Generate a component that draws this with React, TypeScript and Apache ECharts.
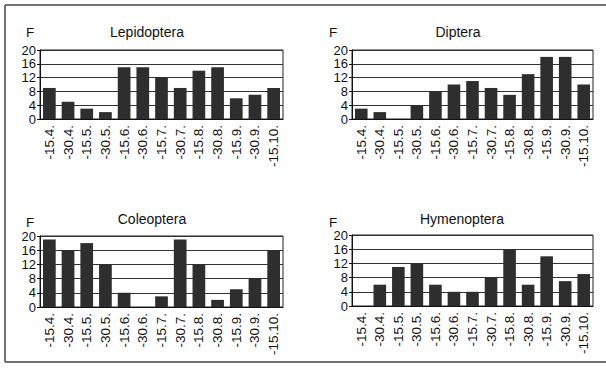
import React, { useEffect, useRef } from "react";
import * as echarts from "echarts";

const categories = ["-15.4.", "-30.4.", "-15.5.", "-30.5.", "-15.6.", "-30.6.", "-15.7.", "-30.7.", "-15.8.", "-30.8.", "-15.9.", "-30.9.", "-15.10."];
const lepidoptera = [9, 5, 3, 2, 15, 15, 12, 9, 14, 15, 6, 7, 9];
const diptera = [3, 2, 0, 4, 8, 10, 11, 9, 7, 13, 18, 18, 10];
const coleoptera = [19, 16, 18, 12, 4, 0, 3, 19, 12, 2, 5, 8, 16];
const hymenoptera = [0, 6, 11, 12, 6, 4, 4, 8, 16, 6, 14, 7, 9];
const panelNames = ["Lepidoptera", "Diptera", "Coleoptera", "Hymenoptera"];
const yMin = 0;
const yMax = 20;
const yStep = 4;
const yAxisName = "F";

const FONT = "Liberation Sans, Arial, sans-serif";

export default function App() {
  const ref = useRef<HTMLDivElement>(null);
  useEffect(() => {
    if (!ref.current) return;
    const chart = echarts.init(ref.current, null, { renderer: "svg" });
    const seriesData = [lepidoptera, diptera, coleoptera, hymenoptera];
    const grids = [
      { left: 40, top: 50, width: 243, height: 69 },
      { left: 352, top: 50, width: 241, height: 69 },
      { left: 40, top: 236, width: 243, height: 71 },
      { left: 352, top: 235, width: 241, height: 71 },
    ];
    const titlePos = [
      { x: 147, y: 32, fx: 30, fy: 32 },
      { x: 458, y: 32, fx: 333, fy: 32 },
      { x: 152, y: 219, fx: 30, fy: 222 },
      { x: 462, y: 219, fx: 333, fy: 222 },
    ];
    const graphics: any[] = [
      { type: "line", shape: { x1: 5, y1: 5, x2: 606, y2: 5 }, style: { stroke: "#444", lineWidth: 1.5 } },
      { type: "line", shape: { x1: 5, y1: 5, x2: 5, y2: 362 }, style: { stroke: "#444", lineWidth: 1.5 } },
      { type: "line", shape: { x1: 5, y1: 362, x2: 606, y2: 362 }, style: { stroke: "#444", lineWidth: 1.5 } },
    ];
    titlePos.forEach((p, i) => {
      graphics.push({
        type: "text",
        x: p.x,
        y: p.y,
        style: { text: panelNames[i], fontSize: 14, fontFamily: FONT, fill: "#111", textAlign: "center", textVerticalAlign: "middle" },
      });
      graphics.push({
        type: "text",
        x: p.fx,
        y: p.fy,
        style: { text: yAxisName, fontSize: 13.5, fontFamily: FONT, fill: "#111", textAlign: "center", textVerticalAlign: "middle" },
      });
    });
    const option: any = {
      animation: false,
      backgroundColor: "#fff",
      grid: grids.map((g) => ({ ...g, show: true, borderColor: "#222", borderWidth: 1, backgroundColor: "transparent" })),
      xAxis: grids.map((_, i) => ({
        type: "category",
        gridIndex: i,
        data: categories,
        axisLine: { lineStyle: { color: "#111", width: 1 } },
        axisTick: { show: false },
        axisLabel: { rotate: 90, fontSize: 13.5, fontFamily: FONT, color: "#111", margin: 6, interval: 0 },
      })),
      yAxis: grids.map((_, i) => ({
        type: "value",
        gridIndex: i,
        min: yMin,
        max: yMax,
        interval: yStep,
        axisLine: { show: true, lineStyle: { color: "#111", width: 1 } },
        axisTick: { show: true, length: 3, lineStyle: { color: "#111" } },
        axisLabel: {
          fontSize: 13,
          lineHeight: 11,
          padding: 0,
          fontFamily: FONT,
          color: "#111",
          margin: 4,
          interval: 0,
          showMinLabel: true,
          showMaxLabel: true,
          hideOverlap: false,
        },
        splitLine: { show: true, lineStyle: { color: "#333", width: 1 } },
      })),
      series: seriesData.map((d, i) => ({
        type: "bar",
        xAxisIndex: i,
        yAxisIndex: i,
        data: d,
        barWidth: "68%",
        itemStyle: { color: "#2e2e2e", borderWidth: 0 },
      })),
      graphic: graphics,
    };
    chart.setOption(option);
    return () => chart.dispose();
  }, []);
  return <div ref={ref} style={{ position: "fixed", left: 0, top: 0, width: 606, height: 369 }} />;
}
